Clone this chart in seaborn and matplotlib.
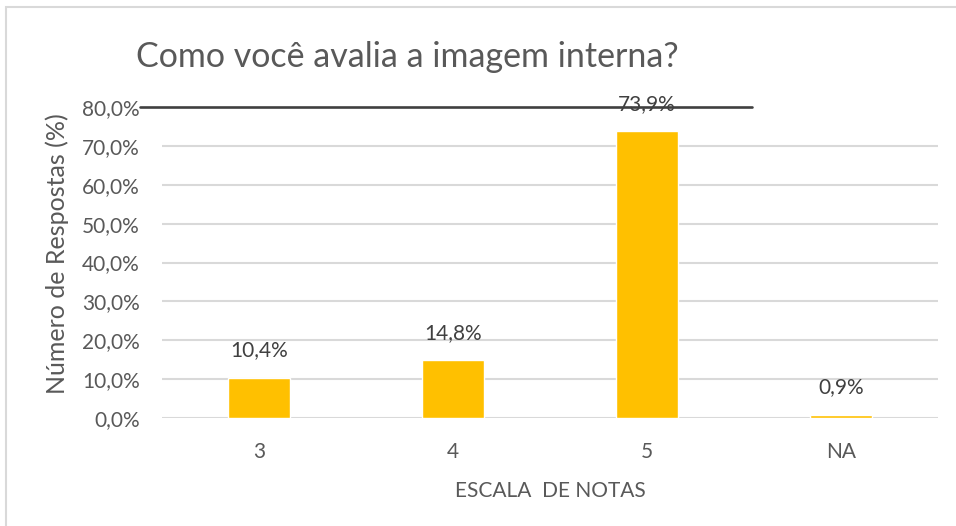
import matplotlib
matplotlib.use("Agg")
import matplotlib.pyplot as plt
import matplotlib.patches as mpatches
import matplotlib.transforms as mtransforms
import seaborn as sns
import pandas as pd

# Survey results
categories = ["3", "4", "5", "NA"]
values = [10.4, 14.8, 73.9, 0.9]
y_ticks = [0, 10, 20, 30, 40, 50, 60, 70, 80]

title = "Como você avalia a imagem interna?"
x_label = "ESCALA  DE NOTAS"
y_label = "Número de Respostas (%)"

sns.set_theme(style="white")
plt.rcParams["font.family"] = ["Lato", "DejaVu Sans"]

W, H = 956, 526
fig = plt.figure(figsize=(W / 100, H / 100), dpi=100)
ax = fig.add_axes([162 / W, (H - 418) / H, (938 - 162) / W, (418 - 107) / H])

df = pd.DataFrame({"nota": categories, "pct": values})
sns.barplot(data=df, x="nota", y="pct", color="#FFC000", saturation=1,
            width=0.315, ax=ax, zorder=3)

ax.set_ylim(0, 80)
ax.set_xlim(-0.5, len(categories) - 0.5)

# light horizontal gridlines (the top one is drawn as a dark rule below)
for t in y_ticks[:-1]:
    ax.axhline(t, color="#D9D9D9", lw=1.5, zorder=1)

trans = mtransforms.blended_transform_factory(fig.transFigure, ax.transData)
ax.plot([140 / W, 752 / W], [y_ticks[-1], y_ticks[-1]], color="#404040",
        lw=1.9, transform=trans, clip_on=False, zorder=4)

ax.set_yticks(y_ticks)
ax.set_yticklabels([f"{t:.1f}%".replace(".", ",") for t in y_ticks])
ax.tick_params(axis="y", length=0, pad=16, labelsize=15, labelcolor="#595959")
ax.tick_params(axis="x", length=0, pad=17, labelsize=15, labelcolor="#595959")

for s in ax.spines.values():
    s.set_visible(False)

for i, v in enumerate(values):
    ax.annotate(f"{v:.1f}%".replace(".", ","), (i, v), xytext=(0, 19.5),
                textcoords="offset points", ha="center", va="center",
                fontsize=15, color="#404040", zorder=5)

ax.set_xlabel(x_label, fontsize=15, color="#595959", labelpad=14)
ax.set_ylabel("")
fig.text(57 / W, 1 - 254 / H, y_label, rotation=90, fontsize=18,
         color="#595959", ha="center", va="center")

fig.text(136 / W, 1 - 57 / H, title, fontsize=24.5, color="#595959",
         ha="left", va="center")

# outer chart frame
fig.patches.append(mpatches.Rectangle((6 / W, -0.1), 2, 1.1 - 7 / H,
                                      transform=fig.transFigure, fill=False,
                                      edgecolor="#D9D9D9", lw=1.5))

fig.savefig("out.png", dpi=100)
